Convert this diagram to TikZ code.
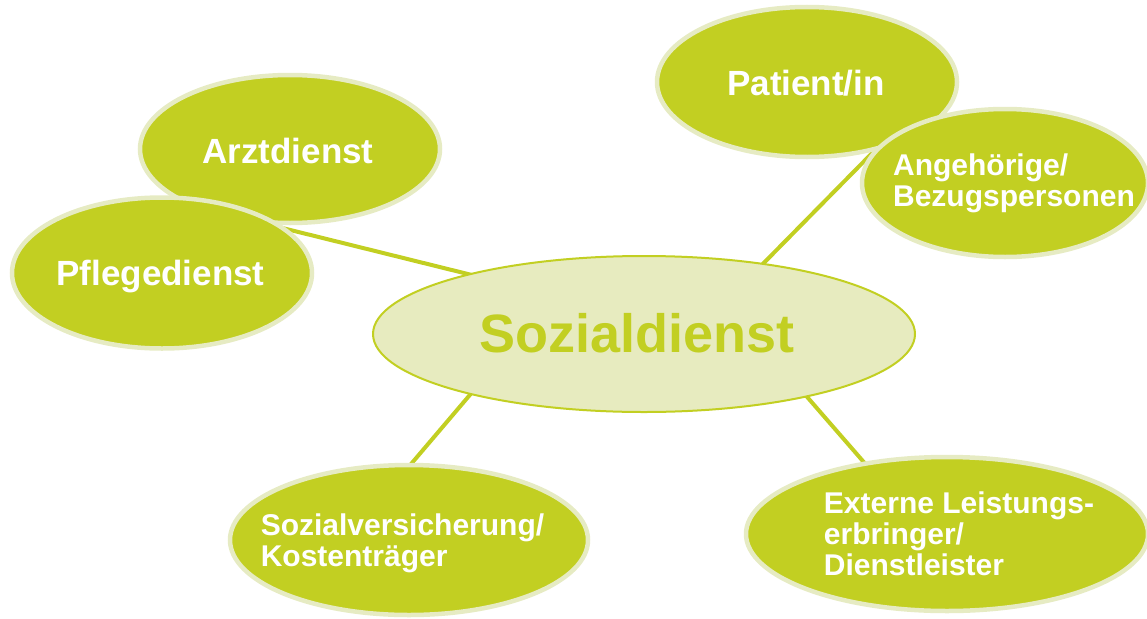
\documentclass[tikz,border=0pt]{standalone}
\usepackage{fontspec}
\setmainfont{Liberation Sans}
\usetikzlibrary{shapes.geometric,backgrounds}
\definecolor{lime}{HTML}{C2CF22}
\definecolor{limeedge}{HTML}{E6EBC3}
\definecolor{limepale}{HTML}{E7EBBF}
\begin{document}
\begin{tikzpicture}[x=1pt,y=-1pt,
  blob/.style={ellipse, fill=lime, draw=limeedge, line width=4.5pt, inner sep=0pt, outer sep=0pt},
  hub/.style={ellipse, fill=limepale, draw=lime, line width=2pt, inner sep=0pt, outer sep=0pt},
  biglbl/.style={text=white, align=left, inner sep=0pt, font=\bfseries\fontsize{35}{36}\selectfont, text height=25pt, text depth=0pt},
  smalllbl/.style={text=white, align=left, inner sep=0pt, font=\bfseries\fontsize{30}{31}\selectfont, text height=21.5pt, text depth=0pt},
  hublbl/.style={text=lime, inner sep=0pt, font=\bfseries\fontsize{54}{56}\selectfont, text height=38.7pt, text depth=0pt},
  conn/.style={draw=lime, line width=4pt}]
\useasboundingbox (0,0) rectangle (1147,618);
% outer nodes
\node[blob, minimum width=300pt, minimum height=148pt,
  label={[biglbl, xshift=-2pt, yshift=-1.5pt]center:Arztdienst}] (arzt) at (290,149) {};
\node[blob, minimum width=300pt, minimum height=151pt,
  label={[biglbl, xshift=-1.5pt]center:Pflegedienst}] (pflege) at (162,273) {};
\node[blob, minimum width=300pt, minimum height=150pt,
  label={[biglbl, xshift=-1pt, yshift=-0.5pt]center:Patient/in}] (patient) at (807,82) {};
\node[blob, minimum width=286pt, minimum height=148pt,
  label={[smalllbl, xshift=9pt, yshift=-12.5pt]center:Angehörige/\\Bezugspersonen}] (angeh) at (1005,183) {};
\node[blob, minimum width=358pt, minimum height=150pt,
  label={[smalllbl, xshift=-6.5pt, yshift=-16pt]center:Sozialversicherung/\\Kostenträger}] (sv) at (409,540) {};
\node[blob, minimum width=402pt, minimum height=154pt,
  label={[smalllbl, xshift=12pt, yshift=-31pt]center:Externe Leistungs-\\erbringer/\\Dienstleister}] (ext) at (947,534) {};
% hub
\node[hub, minimum width=542pt, minimum height=156pt,
  label={[hublbl, xshift=-7pt, yshift=1pt]center:Sozialdienst}] (soz) at (644,334) {};
% connector end points hidden under the ellipses
\coordinate (a1) at (250,220);
\coordinate (b1) at (480,277);
\coordinate (a2) at (885,140);
\coordinate (b2) at (750,277);
\coordinate (a3) at (400,477);
\coordinate (b3) at (480,383);
\coordinate (a4) at (875,475);
\coordinate (b4) at (795,383);
\begin{scope}[on background layer]
  \draw[conn] (a1) -- (b1);
  \draw[conn] (a2) -- (b2);
  \draw[conn] (a3) -- (b3);
  \draw[conn] (a4) -- (b4);
\end{scope}
\end{tikzpicture}
\end{document}
